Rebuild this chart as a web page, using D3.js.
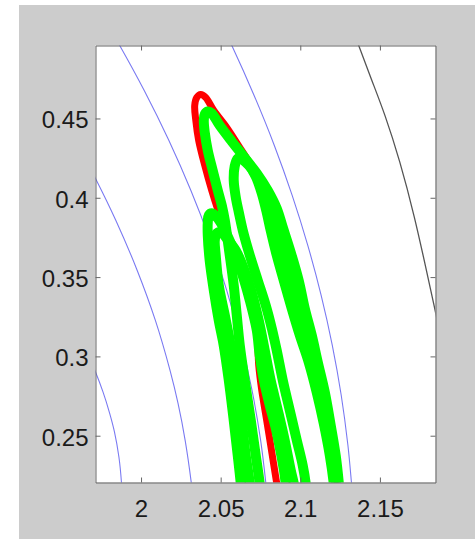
<!DOCTYPE html>
<html><head><meta charset="utf-8">
<script src="https://cdn.jsdelivr.net/npm/d3@7"></script>
<style>html,body{margin:0;padding:0;background:#fff;overflow:hidden}</style>
</head><body>
<svg id="c" width="475" height="539"></svg>
<script>
// ---- data ----
const xTicks = [2, 2.05, 2.1, 2.15];
const yTicks = [0.25, 0.3, 0.35, 0.4, 0.45];
const xDomain = [1.9714, 2.1849];
const yDomain = [0.2205, 0.4960];

// thin contour lines
const contourBlue1 = [[1.9673,0.2996],[1.9714,0.2902],[1.9761,0.2776],[1.9803,0.2641],[1.9833,0.2524],[1.9861,0.2366],[1.9877,0.2205],[1.9880,0.2133]];
const contourBlue2 = [[1.9674,0.4198],[1.9714,0.4122],[1.9842,0.3857],[1.9976,0.3542],[2.0090,0.3227],[2.0182,0.2912],[2.0232,0.2705],[2.0277,0.2471],[2.0315,0.2207],[2.0324,0.2125]];
const contourBlue3 = [[1.9848,0.4991],[1.9866,0.4960],[2.0020,0.4676],[2.0175,0.4361],[2.0313,0.4046],[2.0434,0.3731],[2.0538,0.3416],[2.0626,0.3101],[2.0697,0.2786],[2.0751,0.2471],[2.0783,0.2207],[2.0791,0.2125]];
const contourBlue4 = [[2.0555,0.4991],[2.0570,0.4960],[2.0710,0.4645],[2.0837,0.4330],[2.0949,0.4015],[2.1047,0.3700],[2.1131,0.3385],[2.1201,0.3070],[2.1257,0.2755],[2.1299,0.2440],[2.1321,0.2207],[2.1328,0.2125]];
const contourDark = [[2.1355,0.4991],[2.1367,0.4960],[2.1449,0.4739],[2.1530,0.4531],[2.1625,0.4235],[2.1719,0.3876],[2.1792,0.3542],[2.1844,0.3303],[2.1857,0.3240]];

// red trajectory
const redPath = [[2.0865,0.2125],[2.0852,0.2200],[2.0821,0.2396],[2.0789,0.2597],[2.0758,0.2786],[2.0739,0.2944],[2.0727,0.3164],[2.0683,0.3353],[2.0632,0.3530],[2.0582,0.3668],[2.0538,0.3776],[2.0501,0.3870],[2.0444,0.4046],[2.0400,0.4204],[2.0362,0.4361],[2.0344,0.4487],[2.0337,0.4582],[2.0350,0.4632],[2.0375,0.4651],[2.0406,0.4632],[2.0457,0.4550],[2.0538,0.4443],[2.0632,0.4298],[2.0727,0.4154]];

// green trajectories
const green1 = [[2.0752,0.2125],[2.0745,0.2200],[2.0720,0.2377],[2.0689,0.2597],[2.0651,0.2849],[2.0620,0.3070],[2.0601,0.3259],[2.0582,0.3448],[2.0557,0.3637],[2.0526,0.3857],[2.0507,0.3952],[2.0482,0.4046],[2.0450,0.4172],[2.0419,0.4298],[2.0400,0.4412],[2.0394,0.4487],[2.0400,0.4526],[2.0419,0.4544],[2.0444,0.4532],[2.0494,0.4456],[2.0570,0.4355],[2.0639,0.4267],[2.0727,0.4154],[2.0796,0.4046],[2.0852,0.3933],[2.0890,0.3814],[2.0940,0.3656],[2.0990,0.3479],[2.1028,0.3303],[2.1072,0.3133],[2.1110,0.2963],[2.1154,0.2774],[2.1191,0.2566],[2.1223,0.2371],[2.1242,0.2200],[2.1248,0.2125]];
const green2 = [[2.1041,0.2125],[2.1034,0.2200],[2.1015,0.2314],[2.0978,0.2471],[2.0934,0.2660],[2.0890,0.2849],[2.0852,0.3038],[2.0821,0.3177],[2.0783,0.3322],[2.0733,0.3479],[2.0683,0.3637],[2.0639,0.3794],[2.0614,0.3908],[2.0595,0.4002],[2.0582,0.4109],[2.0588,0.4198],[2.0607,0.4248],[2.0632,0.4254],[2.0670,0.4216],[2.0720,0.4135],[2.0758,0.4028],[2.0789,0.3908],[2.0814,0.3794],[2.0852,0.3637],[2.0896,0.3479],[2.0946,0.3303],[2.0997,0.3133],[2.1053,0.2963],[2.1103,0.2774],[2.1147,0.2578],[2.1185,0.2377],[2.1210,0.2200],[2.1217,0.2125]];
const green3 = [[2.0620,0.4254],[2.0683,0.4198],[2.0745,0.4097],[2.0796,0.3965],[2.0840,0.3826],[2.0890,0.3668],[2.0940,0.3498],[2.0990,0.3322],[2.1034,0.3152],[2.1078,0.2975],[2.1129,0.2774],[2.1172,0.2566],[2.1204,0.2371],[2.1223,0.2200],[2.1229,0.2125]];
const green4 = [[2.0632,0.2125],[2.0626,0.2200],[2.0607,0.2377],[2.0582,0.2597],[2.0551,0.2849],[2.0519,0.3070],[2.0488,0.3227],[2.0457,0.3416],[2.0431,0.3605],[2.0419,0.3763],[2.0419,0.3845],[2.0425,0.3889],[2.0444,0.3902],[2.0482,0.3870],[2.0532,0.3782],[2.0582,0.3668],[2.0632,0.3530],[2.0683,0.3353],[2.0727,0.3164],[2.0745,0.3007],[2.0771,0.2849],[2.0808,0.2692],[2.0846,0.2547],[2.0877,0.2396],[2.0902,0.2251],[2.0915,0.2125]];
const green5 = [[2.0689,0.2125],[2.0683,0.2200],[2.0657,0.2377],[2.0632,0.2597],[2.0601,0.2849],[2.0563,0.3070],[2.0526,0.3259],[2.0488,0.3448],[2.0469,0.3637],[2.0463,0.3731],[2.0475,0.3776],[2.0501,0.3782],[2.0538,0.3744],[2.0595,0.3668],[2.0645,0.3555],[2.0695,0.3404],[2.0739,0.3227],[2.0777,0.3038],[2.0814,0.2849],[2.0859,0.2660],[2.0902,0.2471],[2.0940,0.2282],[2.0959,0.2200],[2.0971,0.2125]];

const blueLines = [contourBlue1, contourBlue2, contourBlue3, contourBlue4];
const greenLines = [green1, green2, green3, green4, green5];

// ---- drawing ----
const svg = d3.select("#c");
const L = 95.5, R = 435.5, T = 45.5, B = 482.5;
const x = d3.scaleLinear().domain(xDomain).range([L, R]);
const y = d3.scaleLinear().domain(yDomain).range([B, T]);

svg.append("rect").attr("x",19).attr("y",5).attr("width",456).attr("height",534).attr("fill","#cccccc");
svg.append("rect").attr("x",L).attr("y",T).attr("width",R-L).attr("height",B-T).attr("fill","#ffffff");

svg.append("defs").append("clipPath").attr("id","clip")
  .append("rect").attr("x",L).attr("y",T).attr("width",R-L).attr("height",B-T);

const g = svg.append("g").attr("clip-path","url(#clip)");
const line = d3.line().x(d=>x(d[0])).y(d=>y(d[1])).curve(d3.curveCatmullRom.alpha(0.5));

g.selectAll("path.blue").data(blueLines).join("path").attr("class","blue")
  .attr("d", line).attr("fill","none").attr("stroke","#7a7af2").attr("stroke-width",1.1);
g.append("path").datum(contourDark).attr("d", d3.line().x(d=>x(d[0])).y(d=>y(d[1])).curve(d3.curveBasis))
  .attr("fill","none").attr("stroke","#555555").attr("stroke-width",1.3);
g.append("path").datum(redPath).attr("d", line).attr("fill","none")
  .attr("stroke","#ff0000").attr("stroke-width",7).attr("stroke-linecap","round").attr("stroke-linejoin","round");
g.selectAll("path.green").data(greenLines).join("path").attr("class","green")
  .attr("d", line).attr("fill","none").attr("stroke","#00ff00").attr("stroke-width",10)
  .attr("stroke-linecap","round").attr("stroke-linejoin","round");

// axes
const axColor = "#666666";
const font = "'Liberation Sans', Arial, Helvetica, sans-serif";
function style(sel){
  sel.select(".domain").attr("stroke", axColor);
  sel.selectAll(".tick line").attr("stroke", axColor);
}
const ax = svg.append("g").attr("transform",`translate(0,${B})`)
  .call(d3.axisBottom(x).tickValues(xTicks).tickSizeInner(-5).tickSizeOuter(0).tickFormat(d=>String(d)));
style(ax);
ax.selectAll(".tick text").attr("y",34.5).attr("dy",null).attr("fill","#1a1a1a")
  .style("font-family",font).style("font-size","24px");
const axT = svg.append("g").attr("transform",`translate(0,${T})`)
  .call(d3.axisTop(x).tickValues(xTicks).tickSizeInner(-5).tickSizeOuter(0).tickFormat(""));
style(axT);
const ay = svg.append("g").attr("transform",`translate(${L},0)`)
  .call(d3.axisLeft(y).tickValues(yTicks).tickSizeInner(-5).tickSizeOuter(0).tickFormat(d=>String(d)));
style(ay);
ay.selectAll(".tick text").attr("x",-7).attr("dy",null).attr("y",9.5).attr("fill","#1a1a1a")
  .style("font-family",font).style("font-size","24px");
const ayR = svg.append("g").attr("transform",`translate(${R},0)`)
  .call(d3.axisRight(y).tickValues(yTicks).tickSizeInner(-5).tickSizeOuter(0).tickFormat(""));
style(ayR);
</script>
</body></html>
